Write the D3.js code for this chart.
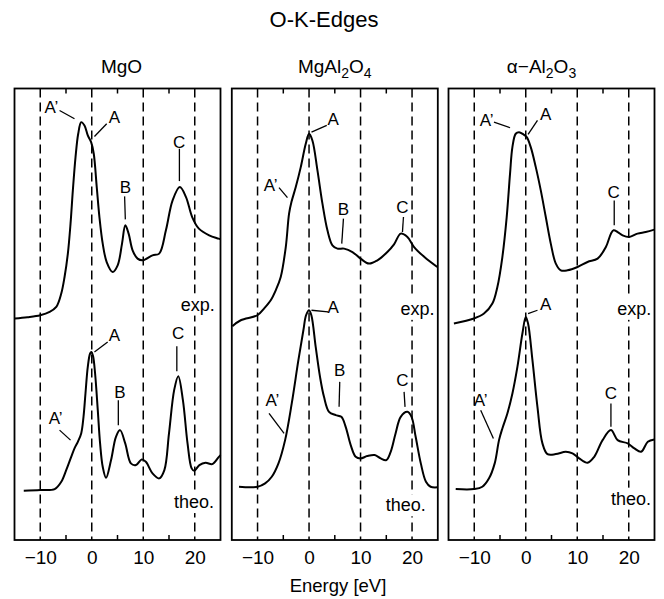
<!DOCTYPE html>
<html><head><meta charset="utf-8">
<script src="https://cdn.jsdelivr.net/npm/d3@7"></script>
<style>
body{margin:0;background:#fff}
svg{display:block}
text{font-family:"Liberation Sans",Arial,Helvetica,sans-serif;fill:#000}
</style>
</head><body>
<svg id="chart" width="664" height="599"></svg>
<script>
// ---------- data ----------
const chartTitle = "O-K-Edges";
const xLabel = "Energy [eV]";
const panelNames = ["MgO", "MgAl2O4", "α−Al2O3"];
const energyTicks = [-10, 0, 10, 20];
const minorTicks = [-5, 5, 15];
const energyDomain = [-15, 25];
const intensityDomain = [0, 452]; // arbitrary units

// [energy eV, intensity a.u.]
const mgoExp = [[-14.95,221.7],[-12.5,223],[-10,225],[-8.18,228.3],[-6.89,233.3],[-5.92,246.7],[-5.28,263.3],[-4.64,286.7],[-4.12,316.7],[-3.67,350],[-3.15,383.3],[-2.63,406.7],[-2.05,418.3],[-1.41,415],[-0.77,405],[-0.12,398.3],[0.39,386.7],[0.97,353.3],[1.49,323.3],[2.13,296.7],[2.9,278.3],[4.06,268.3],[5.03,275],[5.88,296.7],[6.52,315],[7.16,306.7],[7.93,290],[8.9,281.7],[9.87,280],[11.8,285],[13.1,286.7],[14.4,310],[15.7,340],[17.1,353.3],[18.3,343.3],[19.5,323.3],[20.8,311.7],[22.8,305],[24.6,301.7],[25,301]];
const mgoTheo = [[-13.2,49.3],[-10,50],[-7.2,51],[-5.92,58.3],[-4.96,70],[-3.99,83.3],[-3.35,91.7],[-2.7,98.3],[-2.05,106.7],[-1.6,123.3],[-1.22,146.7],[-0.77,173.3],[-0.32,186.7],[-0.06,188.3],[0.26,184],[0.65,166.7],[1.17,130],[1.62,96.7],[2.13,73.3],[2.78,62.3],[3.75,80],[4.7,103.3],[5.5,110],[6.5,96.7],[7.6,76.7],[8.6,75],[9.7,80.7],[10.5,78.3],[11.8,66.7],[13.1,61.7],[14.1,70],[15.0,106.7],[16.0,150],[16.8,164],[17.7,140],[18.6,96.7],[19.4,71.7],[19.9,69.3],[20.9,75],[22.1,77.3],[23.4,76],[24.6,82.7],[25,85]];
const mgAlExp = [[-14.9,214],[-13.26,220],[-10.02,225],[-8.74,231.7],[-7.44,240],[-6.47,250],[-5.5,263.3],[-4.52,293.3],[-3.88,326.7],[-3.42,338.3],[-2.58,353.3],[-1.61,373.3],[-0.64,396.7],[0,406.7],[0.65,400],[1.63,370],[2.6,336.7],[3.57,310],[4.54,295],[5.51,291.7],[6.8,291.7],[8.43,288.3],[10,281.7],[11.65,276.7],[13.28,280],[15.2,288.3],[16.5,296],[17.8,306.7],[19.1,303.3],[20.4,293.3],[22.4,283.3],[24.9,273.3]];
const mgAlTheo = [[-13.6,53.3],[-10,53.3],[-8.53,56.7],[-7.24,63.3],[-5.94,76.7],[-4.65,100],[-3.36,136.7],[-2.07,180],[-1.1,210],[-0.58,225],[0,230],[0.45,225],[1.29,193.3],[2.13,163.3],[2.9,143.3],[3.88,128.3],[5.17,125],[6.27,123.3],[7.11,113.3],[8.09,95],[9.06,83.3],[10,81.7],[11.3,84],[12.75,85],[13.9,81.7],[15,80],[15.85,88.3],[16.8,106.7],[17.8,123.3],[19.1,128.3],[19.9,123.3],[20.7,103.3],[21.7,76.7],[22.7,58.3],[23.6,53.3],[24.9,52.7]];
const alExp = [[-13.95,216.7],[-10.06,221.7],[-8.11,226.7],[-6.48,236.7],[-5.51,253.3],[-4.54,283.3],[-3.7,323.3],[-3.05,366.7],[-2.59,393.3],[-1.95,406.7],[-1.3,408.3],[-0.45,406],[0.19,403.3],[0.97,393.3],[1.95,373.3],[2.92,350],[3.89,323.3],[4.86,296.7],[5.84,276.7],[6.81,270],[8.11,270],[10.06,273.3],[12,278.3],[13.95,281.7],[15.56,293.3],[16.54,306.7],[17.06,310],[17.84,308.3],[18.81,305],[20.1,303.3],[21.7,306.7],[23.3,308.3],[24.96,310.7]];
const alTheo = [[-13.6,51],[-10.06,51],[-8.43,53.3],[-7.13,61.7],[-6.03,76.7],[-5.19,100],[-4.54,111.7],[-3.57,126.7],[-2.59,146.7],[-1.62,173.3],[-0.65,206.7],[0,223.3],[0.45,216.7],[1.3,180],[2.27,133.3],[3.24,96.7],[4.22,86],[5.84,86],[7.78,88.3],[9.08,86.7],[10.37,81.7],[12,77.3],[13.3,83.3],[14.92,100],[16.54,110],[17.84,100],[19.8,96.7],[21.1,91.7],[22.4,88.3],[23.7,98.3],[24.96,100.7]];

// peak labels: text, text position (eV, a.u.), leader line [e1, i1, e2, i2]
const mgoNotes = [
  ["A’", -7.85, 433.3, [-6.25, 430, -3.35, 421.7]],
  ["A", 4.39, 423.3, [2.9, 416.7, 0.52, 404]],
  ["B", 6.52, 353.3, [6.38, 344, 6.52, 321]],
  ["C", 16.96, 398.3, [17.02, 391.7, 17.02, 359.3]],
  ["A", 4.39, 205, [3.09, 198.3, 0.52, 188.3]],
  ["B", 5.49, 148.3, [5.16, 140, 5.16, 115]],
  ["C", 16.77, 206.7, [16.52, 194, 16.52, 169]],
  ["A’", -7.02, 121.7, [-6.25, 110, -4.12, 100]]
];
const mgAlNotes = [
  ["A", 4.66, 421.7, [3.44, 415, 0.47, 408.3]],
  ["A’", -7.44, 355, [-5.83, 352.7, -4.19, 342.7]],
  ["B", 6.68, 331.7, [6.68, 321.7, 6.35, 296.7]],
  ["C", 18.14, 333.3, [18.33, 323.3, 18.14, 308.3]],
  ["A", 4.66, 233.3, [3.69, 228.3, 0.47, 230]],
  ["B", 5.96, 170, [5.96, 158.3, 5.83, 133.3]],
  ["C", 18.14, 160, [18.45, 148.3, 18.64, 133.3]],
  ["A’", -7.11, 140, [-7.77, 126.7, -4.85, 106.7]]
];
const alNotes = [
  ["A’", -7.59, 420, [-6.17, 418.3, -3.05, 412.7]],
  ["A", 3.89, 426.7, [2.28, 420, 0.45, 406]],
  ["C", 17.06, 348.3, [17.18, 340, 17.18, 315]],
  ["A", 3.89, 236, [2.28, 230, 0.45, 226.7]],
  ["A’", -8.75, 140, [-8.75, 130, -6.28, 101.7]],
  ["C", 16.54, 146.7, [16.54, 136.7, 16.54, 113.3]]
];
// curve tags: text, position (eV, a.u.)
const mgoTags = [["exp.", 20.6, 236], ["theo.", 19.86, 38.3]];
const mgAlTags = [["exp.", 21.05, 231.7], ["theo.", 18.78, 35]];
const alTags = [["exp.", 21.07, 231.7], ["theo.", 20.43, 41.7]];

const panels = [
  {name: panelNames[0], exp: mgoExp, theo: mgoTheo, notes: mgoNotes, tags: mgoTags},
  {name: panelNames[1], exp: mgAlExp, theo: mgAlTheo, notes: mgAlNotes, tags: mgAlTags},
  {name: panelNames[2], exp: alExp, theo: alTheo, notes: alNotes, tags: alTags}
];

// ---------- layout ----------
const svg = d3.select("#chart");
const yTop = 88.5, yBot = 540, pw = 206;
const lefts = [14.5, 231.8, 448.5];
const titleShift = [4, 0, -10];
const y = d3.scaleLinear().domain(intensityDomain).range([yBot, yTop]);

svg.append("text").attr("x", 324).attr("y", 27).attr("text-anchor", "middle")
  .style("font-size", "22px").text(chartTitle);
svg.append("text").attr("x", 338).attr("y", 592).attr("text-anchor", "middle")
  .style("font-size", "18.5px").text(xLabel);

function addSubTitle(sel, str) {
  const parts = str.match(/\d+|\D+/g);
  let sub = false;
  parts.forEach(p => {
    const isNum = /^\d+$/.test(p);
    const t = sel.append("tspan").text(p);
    if (isNum && !sub) { t.attr("dy", 5).style("font-size", "14px"); sub = true; }
    else if (isNum) { t.style("font-size", "14px"); }
    else if (sub) { t.attr("dy", -5); sub = false; }
  });
}

const line = d3.line().curve(d3.curveCatmullRom.alpha(0.5));

panels.forEach((p, i) => {
  const x0 = lefts[i];
  const x = d3.scaleLinear().domain(energyDomain).range([x0, x0 + pw]);
  const g = svg.append("g");
  line.x(d => x(d[0])).y(d => y(d[1]));

  const tt = g.append("text").attr("x", x0 + pw / 2 + titleShift[i]).attr("y", 73)
    .attr("text-anchor", "middle").style("font-size", "19px");
  addSubTitle(tt, p.name);

  g.selectAll(".dash").data(energyTicks).enter().append("line")
    .attr("x1", d => x(d)).attr("x2", d => x(d)).attr("y1", yTop).attr("y2", yBot)
    .attr("stroke", "#000").attr("stroke-width", 1.5).attr("stroke-dasharray", "9,5");

  g.selectAll(".mt").data(minorTicks).enter().append("line")
    .attr("x1", d => x(d)).attr("x2", d => x(d)).attr("y1", yTop).attr("y2", yTop + 5)
    .attr("stroke", "#000").attr("stroke-width", 1.5);
  g.selectAll(".mb").data(minorTicks).enter().append("line")
    .attr("x1", d => x(d)).attr("x2", d => x(d)).attr("y1", yBot).attr("y2", yBot - 5)
    .attr("stroke", "#000").attr("stroke-width", 1.5);

  [p.exp, p.theo].forEach(c => {
    g.append("path").attr("d", line(c)).attr("fill", "none")
      .attr("stroke", "#000").attr("stroke-width", 2).attr("stroke-linejoin", "round");
  });

  p.tags.forEach(t => {
    const tx = g.append("text").attr("x", x(t[1])).attr("y", y(t[2])).attr("dy", "0.35em")
      .attr("text-anchor", "middle").style("font-size", "18px").text(t[0]);
    const bb = tx.node().getBBox();
    g.insert("rect", function(){ return tx.node(); })
      .attr("x", bb.x - 1).attr("y", bb.y - 1).attr("width", bb.width + 2).attr("height", bb.height + 2)
      .attr("fill", "#fff");
  });

  p.notes.forEach(n => {
    g.append("text").attr("x", x(n[1])).attr("y", y(n[2])).attr("dy", "0.35em")
      .attr("text-anchor", "middle").style("font-size", "17px").text(n[0]);
    const l = n[3];
    g.append("line").attr("x1", x(l[0])).attr("y1", y(l[1])).attr("x2", x(l[2])).attr("y2", y(l[3]))
      .attr("stroke", "#000").attr("stroke-width", 1.3);
  });

  g.append("rect").attr("x", x0).attr("y", yTop).attr("width", pw).attr("height", yBot - yTop)
    .attr("fill", "none").attr("stroke", "#000").attr("stroke-width", 1.8);

  const ax = d3.axisBottom(x).tickValues(energyTicks).tickSize(0).tickPadding(11);
  const axg = g.append("g").attr("transform", `translate(0,${yBot})`).call(ax);
  axg.select(".domain").remove();
  axg.selectAll("text").style("font-size", "19px")
    .style("font-family", '"Liberation Sans",Arial,Helvetica,sans-serif');
});
</script>
</body></html>
